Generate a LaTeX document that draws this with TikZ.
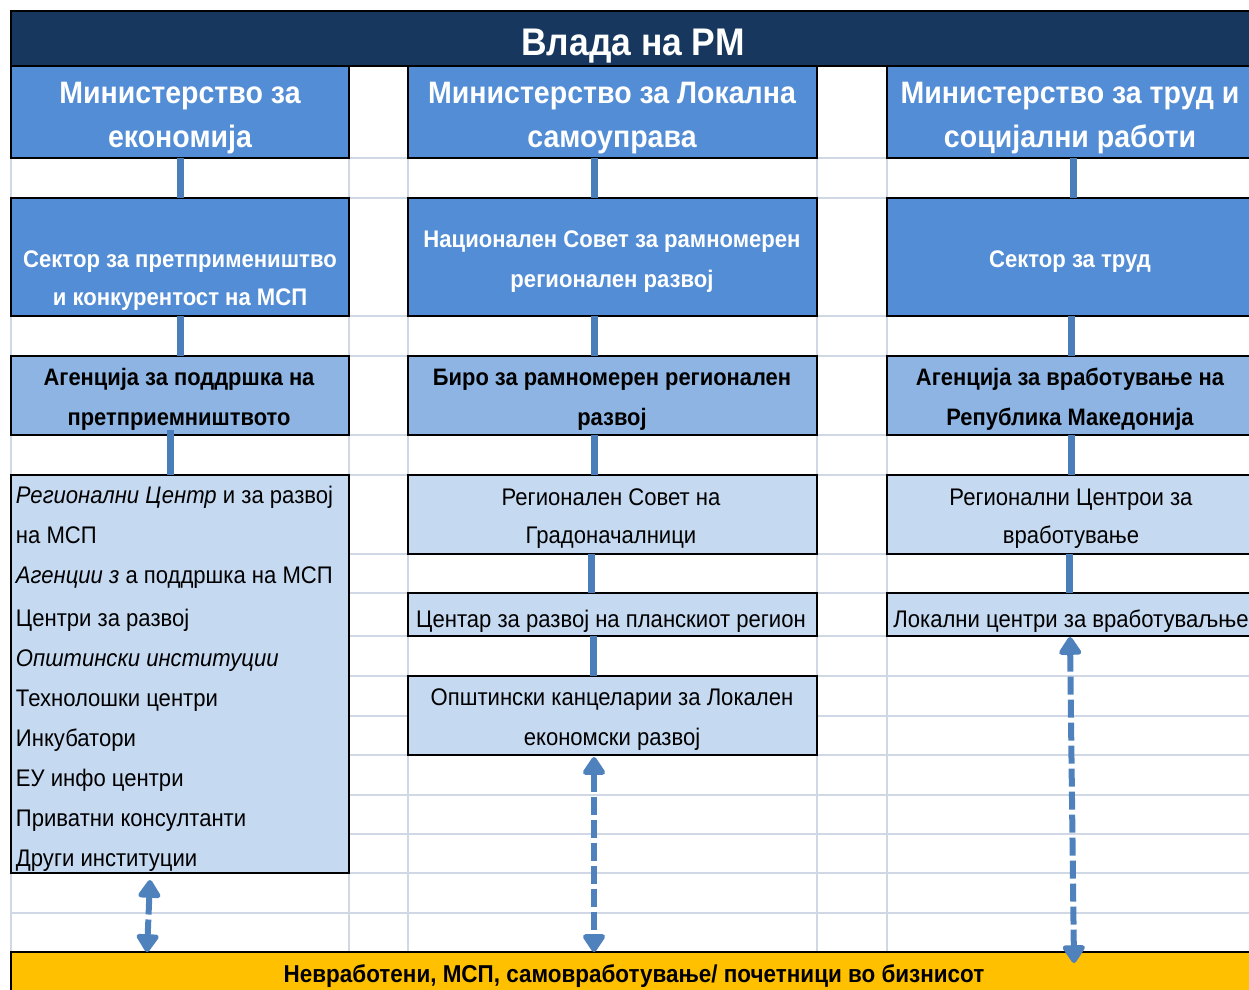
\documentclass[tikz,border=0pt]{standalone}
\usepackage{fontspec}
\setmainfont[FakeStretch=0.92]{Liberation Sans}
\usetikzlibrary{arrows.meta}
\definecolor{navy}{RGB}{23,55,94}
\definecolor{midblue}{RGB}{83,141,213}
\definecolor{agblue}{RGB}{141,180,226}
\definecolor{ltblue}{RGB}{197,217,241}
\definecolor{gridc}{RGB}{208,215,229}
\definecolor{connc}{RGB}{74,126,187}
\definecolor{arrc}{RGB}{79,129,189}
\definecolor{gold}{RGB}{255,192,0}
\newcommand\lnsc[2]{\vtop{\baselineskip=#1\relax\halign{\hfil##\hfil\cr#2\crcr}}}
\newcommand\lnsl[2]{\vtop{\baselineskip=#1\relax\halign{##\hfil\cr#2\crcr}}}
\begin{document}
\begin{tikzpicture}[x=1pt,y=-1pt,
  box/.style={draw=black, line width=1.6pt, inner sep=0pt, outer sep=0pt, anchor=north west},
  gl/.style={draw=gridc, line width=1.4pt},
  txt/.style={inner sep=0pt, outer sep=0pt, anchor=base},
  ttl/.style={txt, text=white, font=\fontsize{38.5}{46}\selectfont\bfseries},
  mt/.style={txt, text=white, font=\fontsize{31}{37}\selectfont\bfseries},
  st/.style={txt, text=white, font=\fontsize{24}{29}\selectfont\bfseries},
  agt/.style={txt, text=black, font=\fontsize{23.8}{28}\selectfont\bfseries},
  yt/.style={txt, text=black, font=\fontsize{24.4}{29}\selectfont\bfseries},
  rt/.style={txt, text=black, font=\fontsize{24}{29}\selectfont},
  bar/.style={draw=connc, line width=7pt},
  darr/.style={draw=arrc, line width=6pt, dash pattern=on 18pt off 5pt,
    {Triangle[width=25pt,length=20pt,round]}-{Triangle[width=25pt,length=20pt,round]}}
]
\useasboundingbox (0,0) rectangle (1249,989);
\begin{scope}
\clip (0,0) rectangle (1249,989);
% grid
\foreach \yy in {158,198,316,356,435,475,554,593,636,676,716,755,795,834,873,913}
  \draw[gl] (11,\yy) -- (1249,\yy);
\foreach \xx in {11,349,408,817,887}
  \draw[gl] (\xx,66) -- (\xx,952);
% title
\node[box, fill=navy, minimum width=1250pt, minimum height=55pt] (gov) at (11,11) {};
% ministries
\node[box, fill=midblue, minimum width=338pt, minimum height=92pt] (m1) at (11,66) {};
\node[box, fill=midblue, minimum width=409pt, minimum height=92pt] (m2) at (408,66) {};
\node[box, fill=midblue, minimum width=366pt, minimum height=92pt] (m3) at (887,66) {};
% sectors
\node[box, fill=midblue, minimum width=338pt, minimum height=118pt] (s1) at (11,198) {};
\node[box, fill=midblue, minimum width=409pt, minimum height=118pt] (s2) at (408,198) {};
\node[box, fill=midblue, minimum width=366pt, minimum height=118pt] (s3) at (887,198) {};
% agencies
\node[box, fill=agblue, minimum width=338pt, minimum height=79pt] (a1) at (11,356) {};
\node[box, fill=agblue, minimum width=409pt, minimum height=79pt] (a2) at (408,356) {};
\node[box, fill=agblue, minimum width=366pt, minimum height=79pt] (a3) at (887,356) {};
% lower boxes
\node[box, fill=ltblue, minimum width=338pt, minimum height=398pt] (l1) at (11,475) {};
\node[box, fill=ltblue, minimum width=409pt, minimum height=79pt] (r2) at (408,475) {};
\node[box, fill=ltblue, minimum width=366pt, minimum height=79pt] (r3) at (887,475) {};
\node[box, fill=ltblue, minimum width=409pt, minimum height=43pt] (c2) at (408,593) {};
\node[box, fill=ltblue, minimum width=366pt, minimum height=43pt] (c3) at (887,593) {};
\node[box, fill=ltblue, minimum width=409pt, minimum height=79pt] (o2) at (408,676) {};
% target group
\node[box, fill=gold, minimum width=1250pt, minimum height=50pt] (yb) at (11,952) {};
% texts
\node[ttl] (govt) at (633,55) {Влада на РМ};
\node[mt] (m1t) at (180,103) {\lnsc{44pt}{Министерство за\cr економија}};
\node[mt] (m2t) at (612,103) {\lnsc{44pt}{Министерство за Локална\cr самоуправа}};
\node[mt] (m3t) at (1070,103) {\lnsc{44pt}{Министерство за труд и\cr социјални работи}};
\node[st] (s1t) at (180,267) {\lnsc{38pt}{Сектор за претпримеништво\cr и конкурентост на МСП}};
\node[st] (s2t) at (612,247) {\lnsc{40pt}{Национален Совет за рамномерен\cr регионален развој}};
\node[st] (s3t) at (1070,267) {Сектор за труд};
\node[agt] (a1t) at (179,385) {\lnsc{40pt}{Агенција за поддршка на\cr претприемништвото}};
\node[agt] (a2t) at (612,385) {\lnsc{40pt}{Биро за рамномерен регионален\cr развој}};
\node[agt] (a3t) at (1070,385) {\lnsc{40pt}{Агенција за вработување на\cr Република Македонија}};
\node[rt, anchor=base west] (l1t) at (16,503) {\lnsl{40pt}{%
\textit{Регионални Центр} и за развој\cr
на МСП\cr
\textit{Агенции з} а поддршка на МСП\cr
\noalign{\vskip3pt}
Центри за развој\cr
\textit{Општински институции}\cr
Технолошки центри\cr
Инкубатори\cr
ЕУ инфо центри\cr
Приватни консултанти\cr
Други институции}};
\node[rt] (r2t) at (611,505) {\lnsc{38pt}{Регионален Совет на\cr Градоначалници}};
\node[rt] (r3t) at (1071,505) {\lnsc{38pt}{Регионални Центрои за\cr вработување}};
\node[rt] (c2t) at (611,627) {Центар за развој на планскиот регион};
\node[rt] (c3t) at (1071,627) {Локални центри за вработуваљње};
\node[rt] (o2t) at (612,705) {\lnsc{40pt}{Општински канцеларии за Локален\cr економски развој}};
\node[yt] (ybt) at (634,982) {Невработени, МСП, самовработување/ почетници во бизнисот};
% solid connectors
\draw[bar] (m1.south) -- (s1.north);
\draw[bar] (s1.south) -- (a1.north);
\draw[bar] ([xshift=-10pt,yshift=5pt]a1.south) -- ([xshift=-10pt]l1.north);
\draw[bar] ([xshift=-18.5pt]m2.south) -- ([xshift=-18.5pt]s2.north);
\draw[bar] ([xshift=-18.5pt]s2.south) -- ([xshift=-18.5pt]a2.north);
\draw[bar] ([xshift=-18.5pt]a2.south) -- ([xshift=-18.5pt]r2.north);
\draw[bar] ([xshift=-21.5pt]r2.south) -- ([xshift=-21.5pt]c2.north);
\draw[bar] ([xshift=-19.5pt]c2.south) -- ([xshift=-19.5pt]o2.north);
\draw[bar] ([xshift=3pt]m3.south) -- ([xshift=3pt]s3.north);
\draw[bar] ([xshift=1pt]s3.south) -- ([xshift=1pt]a3.north);
\draw[bar] ([xshift=1pt]a3.south) -- ([xshift=1pt]r3.north);
\draw[bar] ([xshift=-1pt]r3.south) -- ([xshift=-1pt]c3.north);
% dashed double arrows
\draw[darr] ([xshift=-30pt,yshift=-7pt]l1.south) -- ([xshift=-489pt]yb.north);
\draw[darr] ([xshift=-18.5pt,yshift=-2pt]o2.south) -- ([xshift=-42pt]yb.north);
\draw[darr] ([yshift=-1pt]c3.south) -- ([xshift=438pt,yshift=-11pt]yb.north);
\end{scope}
\end{tikzpicture}
\end{document}
